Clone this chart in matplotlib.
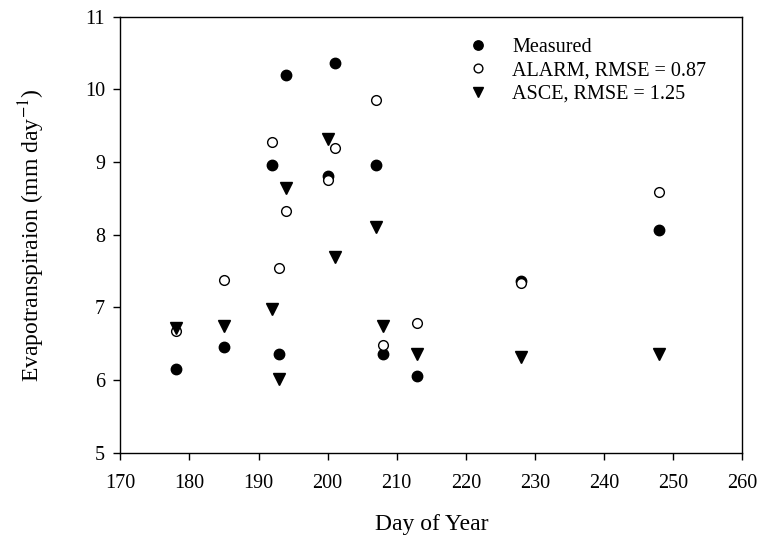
import numpy as np
import matplotlib
matplotlib.use("Agg")
import matplotlib.pyplot as plt

plt.rcParams['font.family'] = ['Liberation Serif', 'DejaVu Serif']
plt.rcParams['mathtext.fontset'] = 'stix'

# Day of year for each observation
day = [178, 185, 192, 193, 194, 200, 201, 207, 208, 213, 228, 248]

# Evapotranspiration (mm/day)
measured = [6.16, 6.46, 8.96, 6.36, 10.20, 8.81, 10.36, 8.96, 6.36, 6.06, 7.36, 8.06]
alarm = [6.68, 7.38, 9.27, 7.54, 8.32, 8.76, 9.19, 9.85, 6.48, 6.79, 7.33, 8.59]
asce = [6.72, 6.74, 6.98, 6.02, 8.65, 9.32, 7.70, 8.11, 6.75, 6.36, 6.32, 6.36]

labels = ["Measured", "ALARM, RMSE = 0.87", "ASCE, RMSE = 1.25"]

fig = plt.figure(figsize=(7.62, 5.36), dpi=100)
ax = fig.add_axes([0.158, 0.155, 0.816, 0.814])

ax.plot(day, measured, linestyle='none', marker='o', markersize=7.5,
        color='black', label=labels[0])
ax.plot(day, alarm, linestyle='none', marker='o', markersize=7,
        markerfacecolor='white', markeredgecolor='black', markeredgewidth=1.0,
        label=labels[1])
ax.plot(day, asce, linestyle='none', marker='v', markersize=8,
        color='black', label=labels[2])

ax.set_xlim(170, 260)
ax.set_ylim(5, 11)
ax.set_xticks(np.arange(170, 261, 10))
ax.set_yticks(np.arange(5, 12, 1))
ax.tick_params(direction='out', length=5, width=1, labelsize=14.5,
               top=False, right=False)
ax.tick_params(axis='x', pad=10)
ax.tick_params(axis='y', pad=6)
for sp in ax.spines.values():
    sp.set_linewidth(1)

ax.set_xlabel("Day of Year", fontsize=17, labelpad=15)
ax.set_ylabel("Evapotranspiraion (mm day$^{-1}$)", fontsize=17, labelpad=27)

ax.legend(loc='upper left', bbox_to_anchor=(0.523, 0.992), frameon=False,
          fontsize=14.5, markerscale=0.9, handlelength=1.4, handletextpad=1.0,
          labelspacing=0.2)

fig.savefig("out.png", dpi=100)
